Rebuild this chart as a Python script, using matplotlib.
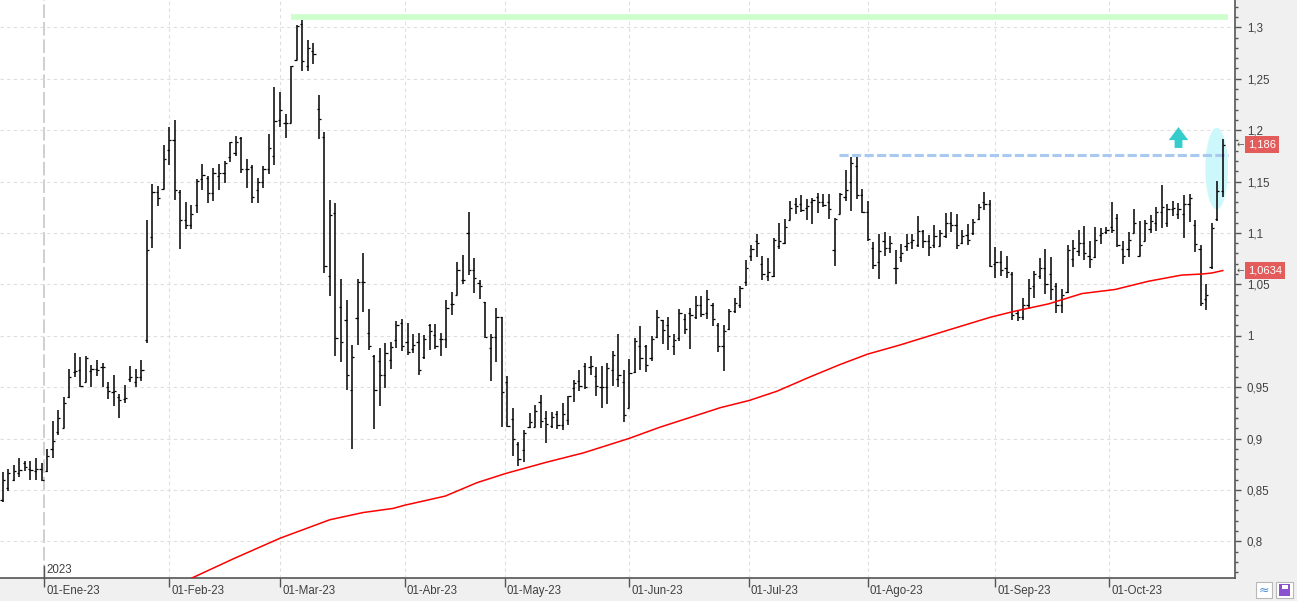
import matplotlib
matplotlib.use("Agg")
import matplotlib.pyplot as plt
import matplotlib.transforms as mtrans
from matplotlib.patches import Ellipse, Rectangle
from matplotlib.path import Path
from matplotlib.ticker import MultipleLocator, FuncFormatter
import numpy as np
import pandas as pd

plt.rcParams['font.family'] = ['Liberation Sans', 'DejaVu Sans']

# trading days (Spanish market holidays removed)
holidays = ['2022-12-26', '2023-04-07', '2023-04-10', '2023-05-01']
dates = pd.bdate_range('2022-12-20', '2023-10-30')
dates = dates[~dates.isin(pd.to_datetime(holidays))]

opens = [0.840, 0.852, 0.860, 0.866, 0.876, 0.870, 0.868, 0.870, 0.868, 0.890,
         0.906, 0.910, 0.940, 0.965, 0.967, 0.955, 0.966, 0.968, 0.970, 0.950,
         0.945, 0.940, 0.938, 0.958, 0.955, 0.960, 0.996, 1.096, 1.140, 1.143,
         1.181, 1.190, 1.140, 1.113, 1.108, 1.127, 1.152, 1.153, 1.139, 1.155,
         1.158, 1.174, 1.178, 1.192, 1.162, 1.164, 1.142, 1.150, 1.162, 1.175,
         1.210, 1.207, 1.207, 1.268, 1.303, 1.262, 1.277, 1.221, 1.193, 1.058,
         1.119, 1.028, 1.015, 0.947, 1.017, 1.052, 1.003, 0.980, 0.975, 0.962,
         0.976, 0.996, 1.012, 0.994, 0.987, 0.994, 0.979, 1.010, 1.001, 0.997,
         0.997, 1.031, 1.040, 1.054, 1.100, 1.064, 1.051, 1.033, 0.988, 0.999,
         1.018, 0.955, 0.919, 0.895, 0.889, 0.911, 0.911, 0.936, 0.920, 0.912,
         0.924, 0.913, 0.918, 0.949, 0.956, 0.971, 0.970, 0.961, 0.950, 0.950,
         0.967, 0.958, 0.955, 0.930, 0.965, 0.990, 0.990, 0.978, 0.999, 1.015,
         1.010, 0.990, 0.998, 1.016, 1.022, 1.018, 1.030, 1.022, 1.030, 1.010,
         0.990, 1.007, 1.024, 1.030, 1.052, 1.078, 1.092, 1.070, 1.058, 1.058,
         1.087, 1.090, 1.113, 1.128, 1.128, 1.124, 1.130, 1.135, 1.130, 1.130,
         1.083, 1.118, 1.135, 1.150, 1.165, 1.137, 1.120, 1.085, 1.072, 1.092,
         1.085, 1.066, 1.077, 1.087, 1.091, 1.088, 1.102, 1.092, 1.088, 1.087,
         1.097, 1.110, 1.108, 1.090, 1.098, 1.100, 1.114, 1.130, 1.128, 1.070,
         1.072, 1.066, 1.060, 1.022, 1.018, 1.030, 1.048, 1.058, 1.066, 1.060,
         1.048, 1.030, 1.043, 1.075, 1.082, 1.090, 1.078, 1.077, 1.098, 1.101,
         1.106, 1.115, 1.084, 1.084, 1.100, 1.078, 1.092, 1.104, 1.110, 1.120,
         1.110, 1.123, 1.118, 1.118, 1.128, 1.108, 1.084, 1.036, 1.067, 1.114,
         1.141]
highs = [0.867, 0.870, 0.874, 0.881, 0.878, 0.878, 0.881, 0.876, 0.890, 0.917,
         0.928, 0.940, 0.968, 0.983, 0.979, 0.980, 0.972, 0.976, 0.973, 0.955,
         0.962, 0.943, 0.952, 0.971, 0.968, 0.976, 1.113, 1.148, 1.146, 1.186,
         1.203, 1.210, 1.142, 1.130, 1.127, 1.152, 1.167, 1.155, 1.163, 1.167,
         1.170, 1.188, 1.194, 1.193, 1.172, 1.166, 1.153, 1.165, 1.196, 1.242,
         1.237, 1.216, 1.262, 1.302, 1.307, 1.288, 1.285, 1.234, 1.198, 1.132,
         1.129, 1.055, 1.035, 0.991, 1.055, 1.080, 1.026, 0.981, 0.988, 0.993,
         0.994, 1.014, 1.016, 1.012, 1.002, 1.003, 1.001, 1.011, 1.011, 1.003,
         1.035, 1.043, 1.072, 1.079, 1.120, 1.076, 1.054, 1.033, 1.002, 1.027,
         1.018, 0.961, 0.930, 0.897, 0.908, 0.925, 0.933, 0.942, 0.927, 0.926,
         0.927, 0.935, 0.941, 0.957, 0.967, 0.973, 0.980, 0.970, 0.971, 0.973,
         0.985, 1.002, 0.967, 0.977, 0.998, 1.009, 0.991, 1.000, 1.025, 1.015,
         1.018, 1.002, 1.026, 1.021, 1.027, 1.039, 1.039, 1.044, 1.032, 1.012,
         1.010, 1.026, 1.037, 1.048, 1.074, 1.088, 1.099, 1.078, 1.076, 1.095,
         1.110, 1.114, 1.131, 1.134, 1.137, 1.133, 1.134, 1.139, 1.138, 1.138,
         1.115, 1.139, 1.161, 1.174, 1.174, 1.143, 1.131, 1.091, 1.099, 1.101,
         1.097, 1.083, 1.089, 1.099, 1.099, 1.116, 1.103, 1.098, 1.108, 1.103,
         1.119, 1.120, 1.118, 1.103, 1.109, 1.114, 1.128, 1.140, 1.132, 1.086,
         1.082, 1.078, 1.062, 1.025, 1.037, 1.055, 1.063, 1.076, 1.084, 1.077,
         1.051, 1.045, 1.088, 1.093, 1.103, 1.107, 1.092, 1.106, 1.105, 1.106,
         1.130, 1.118, 1.092, 1.101, 1.123, 1.112, 1.113, 1.117, 1.125, 1.147,
         1.128, 1.131, 1.129, 1.137, 1.138, 1.113, 1.088, 1.050, 1.110, 1.151,
         1.191]
lows = [0.838, 0.849, 0.859, 0.863, 0.868, 0.860, 0.860, 0.859, 0.867, 0.881,
        0.903, 0.910, 0.939, 0.960, 0.950, 0.955, 0.950, 0.961, 0.950, 0.938,
        0.932, 0.920, 0.935, 0.955, 0.950, 0.956, 0.993, 1.085, 1.126, 1.143,
        1.166, 1.132, 1.084, 1.104, 1.104, 1.119, 1.142, 1.129, 1.131, 1.142,
        1.149, 1.169, 1.175, 1.158, 1.144, 1.129, 1.129, 1.144, 1.157, 1.166,
        1.203, 1.192, 1.207, 1.268, 1.258, 1.258, 1.264, 1.191, 1.061, 1.039,
        0.980, 0.974, 0.947, 0.890, 0.991, 1.023, 0.986, 0.909, 0.932, 0.949,
        0.968, 0.988, 0.985, 0.981, 0.983, 0.962, 0.977, 0.986, 0.987, 0.980,
        0.988, 1.020, 1.040, 1.050, 1.059, 1.042, 1.036, 0.998, 0.956, 0.974,
        0.911, 0.911, 0.883, 0.873, 0.877, 0.910, 0.911, 0.910, 0.896, 0.910,
        0.909, 0.908, 0.913, 0.936, 0.946, 0.948, 0.962, 0.941, 0.930, 0.934,
        0.951, 0.950, 0.916, 0.930, 0.964, 0.967, 0.965, 0.975, 0.998, 0.992,
        0.986, 0.981, 0.995, 1.002, 0.987, 1.016, 1.018, 1.016, 1.009, 0.984,
        0.966, 1.006, 1.022, 1.027, 1.048, 1.073, 1.077, 1.054, 1.053, 1.057,
        1.084, 1.089, 1.113, 1.118, 1.120, 1.113, 1.109, 1.119, 1.125, 1.114,
        1.068, 1.118, 1.131, 1.121, 1.133, 1.119, 1.092, 1.065, 1.055, 1.078,
        1.080, 1.050, 1.072, 1.082, 1.084, 1.086, 1.085, 1.078, 1.085, 1.087,
        1.095, 1.101, 1.084, 1.089, 1.088, 1.098, 1.113, 1.122, 1.067, 1.056,
        1.058, 1.056, 1.015, 1.014, 1.015, 1.026, 1.037, 1.055, 1.041, 1.035,
        1.022, 1.022, 1.042, 1.067, 1.078, 1.074, 1.066, 1.076, 1.089, 1.099,
        1.100, 1.086, 1.070, 1.077, 1.100, 1.078, 1.092, 1.100, 1.102, 1.105,
        1.106, 1.116, 1.114, 1.095, 1.111, 1.081, 1.029, 1.025, 1.065, 1.112,
        1.135]
closes = [0.860, 0.866, 0.868, 0.869, 0.872, 0.869, 0.870, 0.860, 0.883, 0.898,
          0.920, 0.935, 0.960, 0.966, 0.951, 0.978, 0.968, 0.967, 0.970, 0.946,
          0.946, 0.937, 0.939, 0.960, 0.960, 0.967, 1.083, 1.140, 1.134, 1.172,
          1.190, 1.142, 1.113, 1.108, 1.118, 1.151, 1.156, 1.139, 1.158, 1.158,
          1.168, 1.188, 1.188, 1.162, 1.162, 1.135, 1.150, 1.162, 1.183, 1.209,
          1.220, 1.207, 1.262, 1.301, 1.267, 1.280, 1.274, 1.211, 1.068, 1.117,
          0.998, 0.994, 0.962, 0.979, 1.052, 1.052, 0.990, 0.947, 0.962, 0.983,
          0.989, 1.010, 0.990, 0.984, 0.991, 0.967, 0.997, 1.005, 0.990, 0.997,
          1.027, 1.031, 1.064, 1.054, 1.064, 1.056, 1.048, 0.999, 0.999, 1.018,
          0.945, 0.912, 0.900, 0.880, 0.905, 0.916, 0.927, 0.917, 0.914, 0.921,
          0.913, 0.924, 0.941, 0.954, 0.951, 0.950, 0.971, 0.951, 0.950, 0.969,
          0.981, 0.962, 0.923, 0.964, 0.995, 0.978, 0.972, 0.997, 1.018, 1.006,
          1.000, 0.996, 1.022, 1.007, 1.020, 1.030, 1.021, 1.036, 1.016, 0.990,
          1.005, 1.024, 1.032, 1.046, 1.066, 1.084, 1.090, 1.060, 1.062, 1.093,
          1.092, 1.106, 1.124, 1.126, 1.122, 1.126, 1.132, 1.130, 1.127, 1.123,
          1.114, 1.138, 1.142, 1.168, 1.137, 1.120, 1.094, 1.069, 1.082, 1.085,
          1.090, 1.066, 1.080, 1.090, 1.093, 1.102, 1.092, 1.086, 1.097, 1.100,
          1.110, 1.108, 1.088, 1.097, 1.093, 1.111, 1.125, 1.128, 1.068, 1.072,
          1.064, 1.062, 1.020, 1.018, 1.030, 1.046, 1.060, 1.066, 1.050, 1.045,
          1.030, 1.040, 1.083, 1.085, 1.090, 1.080, 1.075, 1.093, 1.100, 1.103,
          1.103, 1.088, 1.078, 1.093, 1.110, 1.088, 1.110, 1.112, 1.120, 1.125,
          1.123, 1.124, 1.123, 1.128, 1.134, 1.089, 1.032, 1.040, 1.105, 1.141,
          1.186]

# moving average: (bar index, value)
ma_idx = [33.0, 34.0, 41.6, 50.0, 59.0, 65.0, 70.4, 72.4, 79.8, 85.5, 90.7,
          98.1, 104.7, 112.9, 118.5, 129.4, 134.6, 139.6, 145.6, 151.0, 155.9,
          161.8, 169.6, 178.1, 182.6, 188.6, 194.6, 200.6, 206.6, 212.6, 216.2,
          218.0, 220.0]
ma_val = [0.761, 0.764, 0.783, 0.803, 0.821, 0.828, 0.832, 0.835, 0.844, 0.857,
          0.866, 0.877, 0.886, 0.900, 0.911, 0.930, 0.937, 0.946, 0.960, 0.972,
          0.982, 0.991, 1.004, 1.018, 1.024, 1.031, 1.041, 1.045, 1.053, 1.059,
          1.060, 1.061, 1.0634]

month_starts = pd.date_range('2023-01-01', '2023-10-01', freq='MS')
month_labels = ['01-Ene-23', '01-Feb-23', '01-Mar-23', '01-Abr-23', '01-May-23',
                '01-Jun-23', '01-Jul-23', '01-Ago-23', '01-Sep-23', '01-Oct-23']
y_ticks = [0.8, 0.85, 0.9, 0.95, 1.0, 1.05, 1.1, 1.15, 1.2, 1.25, 1.3]

resist_level, resist_from, resist_to = 1.310, 52.0, 221.0
break_level, break_from, break_to = 1.1755, 150.8, 221.0
last_close = closes[-1]
last_ma = ma_val[-1]

fig = plt.figure(figsize=(12.97, 6.01), dpi=100, facecolor='#f0f0f0')
ax = fig.add_axes([0, 23 / 601, 1235 / 1297, 578 / 601])
ax.set_facecolor('white')

x = np.arange(len(dates))
ax.set_xlim(-0.49, 222.2)
ax.set_ylim(0.7643, 1.3266)

# month positions (half a bar before when the 1st is not a session)
month_pos = []
for ms in month_starts:
    p = np.searchsorted(dates, ms)
    month_pos.append(p if dates[p] == ms else p - 0.5)

for p in month_pos[1:]:
    ax.axvline(p, color='#dedede', lw=0.8, ls=(0, (3, 3)), zorder=0)
ax.axvline(month_pos[0], color='#cfcfcf', lw=1.4, ls=(0, (7, 2)), zorder=0)
for v in y_ticks:
    ax.axhline(v, color='#dedede', lw=0.8, ls=(0, (3, 3)), zorder=0)

# annotations behind the bars
ax.add_patch(Ellipse((218.9, 1.1626), width=4.1, height=0.0794,
                     facecolor='#ccf8fc', edgecolor='none', zorder=1))
ax.plot([resist_from, resist_to], [resist_level] * 2, color='#ccffcc', lw=4.1,
        solid_capstyle='butt', zorder=1)
ax.plot([break_from, break_to], [break_level] * 2, color='#a9c9f1', lw=2.2,
        ls=(0, (3, 1.1)), dash_capstyle='butt', zorder=2)

# up arrow drawn as a custom marker
arrow_path = Path([(0, 8), (7.5, -2), (3, -2), (3, -8), (-3, -8), (-3, -2),
                   (-7.5, -2), (0, 8)], closed=True)
ax.plot([211.9], [1.1933], marker=arrow_path, markersize=15, color='#35cccc',
        markeredgewidth=0, linestyle='none', zorder=2)

# OHLC bars
ax.vlines(x, lows, highs, color='black', lw=1.1, zorder=3)
ax.hlines(opens, x - 0.4, x, color='black', lw=0.9, zorder=3)
ax.hlines(closes, x, x + 0.4, color='black', lw=0.9, zorder=3)

ax.plot(ma_idx, ma_val, color='#ff0000', lw=1.1, zorder=4)

# axes styling
for s in ['left', 'top']:
    ax.spines[s].set_visible(False)
ax.spines['right'].set_color('#555555')
ax.spines['bottom'].set_color('#555555')
ax.spines['right'].set_linewidth(1.2)
ax.spines['bottom'].set_linewidth(1.2)

ax.yaxis.tick_right()
ax.set_yticks(y_ticks)
ax.yaxis.set_minor_locator(MultipleLocator(0.01))
ax.yaxis.set_major_formatter(FuncFormatter(lambda v, _: f"{round(v, 2):g}".replace('.', ',')))
ax.tick_params(axis='y', which='major', length=4.5, width=1, color='#555555',
               labelsize=8.3, labelcolor='#404040', pad=4)
ax.tick_params(axis='y', which='minor', length=2.5, width=1, color='#555555')

ax.set_xticks(month_pos)
ax.set_xticklabels([])
ax.tick_params(axis='x', length=6.5, width=1, color='#555555')

lab_tr = mtrans.offset_copy(ax.get_xaxis_transform(), fig=fig, x=2, y=-13, units='dots')
for p, lab in zip(month_pos, month_labels):
    ax.text(p, 0, lab, transform=lab_tr, ha='left', va='center', fontsize=8.3,
            color='#404040', clip_on=False)
yr_tr = mtrans.offset_copy(ax.get_xaxis_transform(), fig=fig, x=2, y=8, units='dots')
ax.text(month_pos[0], 0, '2023', transform=yr_tr, ha='left', va='center',
        fontsize=8.3, color='#404040')
ax.plot([month_pos[0]] * 2, [0, 12 / 578], transform=ax.get_xaxis_transform(),
        color='#555555', lw=1, clip_on=False)

# last price / last average labels on the price scale
lbl_tr = mtrans.blended_transform_factory(ax.transAxes, ax.transData)
for val, txt in [(last_close, '1,186'), (last_ma, '1,0634')]:
    ax.text(1248 / 1235, val, txt, transform=lbl_tr, ha='left', va='center',
            fontsize=8, color='white', clip_on=False, zorder=6,
            bbox=dict(boxstyle='square,pad=0.3', facecolor='#e35b5b', edgecolor='none'))
    ax.text(1237 / 1235, val, '\u2190', transform=lbl_tr, ha='left', va='center',
            fontsize=6.5, color='#555555', clip_on=False, zorder=6,
            family=['DejaVu Sans'])

# small buttons bottom right
fig.add_artist(Rectangle((1256 / 1297, 3 / 601), 16 / 1297, 16 / 601,
                         transform=fig.transFigure, facecolor='white', edgecolor='#b8b8b8', lw=0.8))
fig.text(1264 / 1297, 11 / 601, '\u2248', ha='center', va='center', fontsize=9,
         color='#4a8fd8', family=['DejaVu Sans'])
fig.add_artist(Rectangle((1276 / 1297, 3 / 601), 17 / 1297, 16 / 601,
                         transform=fig.transFigure, facecolor='white', edgecolor='#b8b8b8', lw=0.8))
fig.add_artist(Rectangle((1279 / 1297, 5 / 601), 11 / 1297, 12 / 601,
                         transform=fig.transFigure, facecolor='#8b52cf', edgecolor='none'))
fig.add_artist(Rectangle((1281.5 / 1297, 12 / 601), 6 / 1297, 4 / 601,
                         transform=fig.transFigure, facecolor='white', edgecolor='none'))

fig.savefig('out.png', dpi=100, facecolor=fig.get_facecolor())
